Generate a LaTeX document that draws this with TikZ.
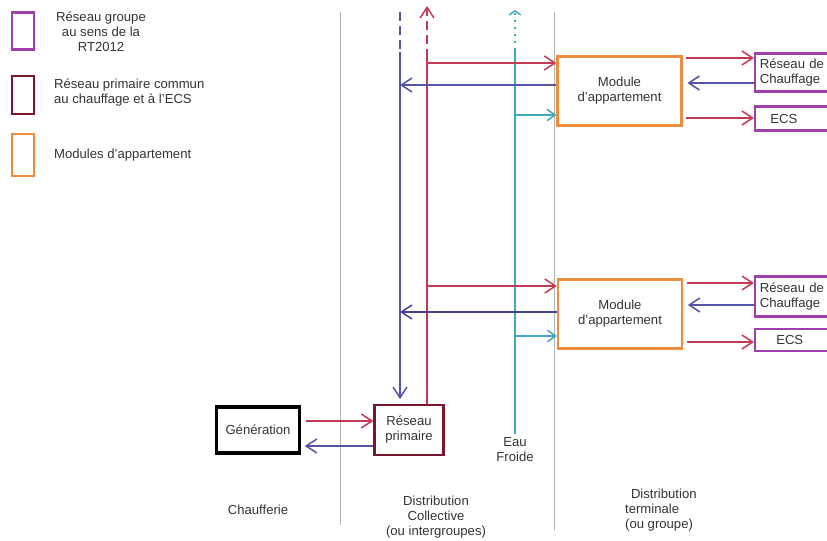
\documentclass[tikz,border=0pt]{standalone}
\usepackage{fontspec}
\setmainfont{Liberation Sans}
\usetikzlibrary{arrows.meta}

\definecolor{rouge}{RGB}{196,58,84}
\definecolor{bleu}{RGB}{84,84,170}
\definecolor{eau}{RGB}{64,168,192}
\definecolor{orangemod}{RGB}{236,142,62}
\definecolor{violetgr}{RGB}{160,64,170}
\definecolor{bordeaux}{RGB}{120,24,46}
\definecolor{gris}{RGB}{178,178,178}

\begin{document}
\begin{tikzpicture}[x=0.03cm,y=-0.03cm,
    every node/.style={font=\fontsize{11.2}{12.8}\selectfont, text=black!80},
    fleche/.style={-{Straight Barb[length=3.2mm,width=4.2mm]}},
    flechepetite/.style={-{Straight Barb[length=2.4mm,width=3.4mm]}},
    ligne/.style={line width=1.3pt},
    module/.style={draw=orangemod, line width=2pt, align=center, minimum width=3.72cm, minimum height=2.07cm},
    groupe/.style={draw=violetgr, line width=2pt, align=left, text width=2.6cm, inner xsep=4pt, anchor=west},
    legende/.style={line width=2pt, minimum width=0.66cm, minimum height=1.1cm}]

    \useasboundingbox (0,0) rectangle (827,541);
    \clip (0,0) rectangle (827,541);

    \draw[gris, line width=0.6pt] (340,12) -- (340,525);
    \draw[gris, line width=0.6pt] (554,12) -- (554,530);

    \node[legende, draw=violetgr] (legA) at (23,31) {};
    \node[legende, draw=bordeaux, minimum height=1.15cm] (legB) at (23,95) {};
    \node[legende, draw=orangemod, minimum height=1.25cm] (legC) at (23,155) {};
    \node[align=center] (txtA) at (101,32) {Réseau groupe\\au sens de la\\RT2012};
    \node[align=left, anchor=west] (txtB) at (50,93) {Réseau primaire commun\\au chauffage et à l'ECS};
    \node[anchor=west] (txtC) at (50,155) {Modules d'appartement};

    \node[draw, line width=3pt, minimum width=2.49cm, minimum height=1.38cm] (gen) at (258,430) {Génération};
    \node[draw=bordeaux, line width=2pt, align=center, minimum width=2.07cm, minimum height=1.5cm] (prim) at (409,430) {Réseau\\primaire};

    \node[module] (mod1) at (619.5,91) {Module\\d'appartement};
    \node[module] (mod2) at (620,314) {Module\\d'appartement};

    \node[groupe, minimum height=1.14cm] (chauf1) at (754,72.5) {Réseau de\\Chauffage};
    \node[groupe, minimum height=0.72cm] (ecs1) at (754,118.5) {\hspace*{9pt}ECS};
    \node[groupe, minimum height=1.2cm] (chauf2) at (754,296.5) {Réseau de\\Chauffage};
    \node[groupe, minimum height=0.66cm] (ecs2) at (754,340) {\hspace*{14pt}ECS};

    \node[align=center] (ef) at (515,450) {Eau\\Froide};

    \node (chaufferie) at (258,510) {Chaufferie};
    \node[align=center] (distcoll) at (436,517) {Distribution\\Collective\\(ou intergroupes)};
    \node[align=left, anchor=north west] (distterm) at (621,485) {\hspace*{5pt}Distribution\\terminale\\(ou groupe)};

    \coordinate (bleuH) at (400,12);
    \coordinate (bleuM) at (400,52);
    \coordinate (rougeH) at (427,6);
    \coordinate (rougeM) at (427,58);
    \coordinate (eauH) at (515,10);
    \coordinate (eauM) at (515,50);

    \draw[bleu, ligne, dash pattern=on 8pt off 4pt] (bleuH) -- (bleuM);
    \draw[bleu, ligne, fleche, shorten >=4pt] (bleuM) -- (bleuM |- prim.north);
    \draw[rouge, ligne] (prim.north -| rougeM) -- (rougeM);
    \draw[rouge, ligne, fleche, dash pattern=on 8pt off 4pt] (rougeM) -- (rougeH);
    \draw[eau, ligne] (ef.north) -- (eauM);
    \draw[eau, ligne, dash pattern=on 2pt off 4pt, -{Straight Barb[length=1.2mm,width=3.5mm]}] (eauM) -- (eauH);

    \coordinate (r1) at (427,63);
    \coordinate (b1) at (400,85);
    \coordinate (c1) at (515,115);
    \coordinate (r2) at (427,286);
    \coordinate (b2) at (400,312);
    \coordinate (c2) at (515,336);

    \draw[rouge, ligne, fleche] (r1) -- (r1 -| mod1.west);
    \draw[bleu, ligne, fleche] (b1 -| mod1.west) -- (b1);
    \draw[eau, ligne, flechepetite] (c1) -- (c1 -| mod1.west);
    \draw[rouge, ligne, fleche] (r2) -- (r2 -| mod2.west);
    \draw[bleu!80!black, ligne, fleche] (b2 -| mod2.west) -- (b2);
    \draw[eau, ligne, flechepetite] (c2) -- (c2 -| mod2.west);

    \coordinate (s1) at (0,58);
    \coordinate (t1) at (0,83);
    \coordinate (u1) at (0,118);
    \coordinate (s2) at (0,283);
    \coordinate (t2) at (0,305);
    \coordinate (u2) at (0,342);

    \draw[rouge, ligne, fleche, shorten <=3pt] (mod1.east |- s1) -- (chauf1.west |- s1);
    \draw[bleu, ligne, fleche, shorten >=4pt] (chauf1.west |- t1) -- (mod1.east |- t1);
    \draw[rouge, ligne, fleche, shorten <=3pt] (mod1.east |- u1) -- (ecs1.west |- u1);
    \draw[rouge, ligne, fleche, shorten <=3pt] (mod2.east |- s2) -- (chauf2.west |- s2);
    \draw[bleu, ligne, fleche, shorten >=4pt] (chauf2.west |- t2) -- (mod2.east |- t2);
    \draw[rouge, ligne, fleche, shorten <=3pt] (mod2.east |- u2) -- (ecs2.west |- u2);

    \coordinate (g1) at (0,421);
    \coordinate (g2) at (0,446);
    \draw[rouge, ligne, fleche, shorten <=4pt] (gen.east |- g1) -- (prim.west |- g1);
    \draw[bleu, ligne, fleche, shorten >=3pt] (prim.west |- g2) -- (gen.east |- g2);
\end{tikzpicture}
\end{document}
